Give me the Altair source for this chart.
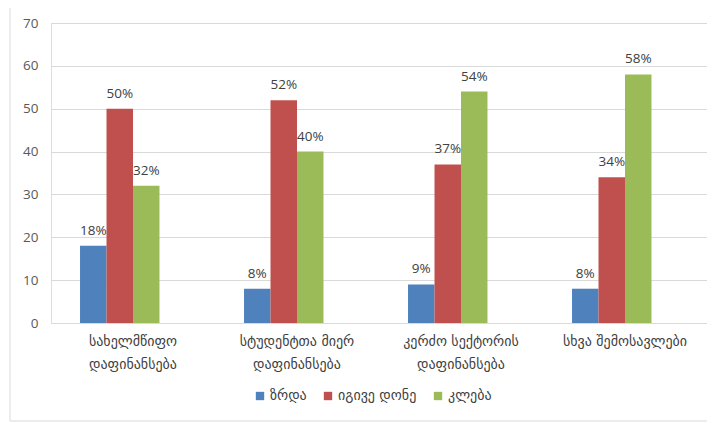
import altair as alt
import pandas as pd

categories = ["სახელმწიფო\nდაფინანსება", "სტუდენტთა მიერ\nდაფინანსება",
              "კერძო სექტორის\nდაფინანსება", "სხვა შემოსავლები"]
series = ["ზრდა", "იგივე დონე", "კლება"]
colors = ["#4F81BD", "#C0504D", "#9BBB59"]
values = {
    "ზრდა": [18, 8, 9, 8],
    "იგივე დონე": [50, 52, 37, 34],
    "კლება": [32, 40, 54, 58],
}
y_ticks = [0, 10, 20, 30, 40, 50, 60, 70]

rows = []
for s in series:
    for c, v in zip(categories, values[s]):
        rows.append({"cat": c, "series": s, "value": v, "label": f"{v}%"})
df = pd.DataFrame(rows)

FONT = "Open Sans, DejaVu Sans"
GEO = "DejaVu Sans, Open Sans"

x = alt.X("cat:N", sort=categories,
          scale=alt.Scale(paddingInner=0.354, paddingOuter=0.177),
          axis=alt.Axis(title=None, labelAngle=0, ticks=False, domainColor="#d9d9d9",
                        labelFont=GEO, labelFontSize=14, labelColor="#404040",
                        labelPadding=11, labelLineHeight=23,
                        labelExpr="split(datum.label, '\\n')"))
xo = alt.XOffset("series:N", scale=alt.Scale(domain=series + ["_"], paddingInner=0, paddingOuter=0))
y = alt.Y("value:Q", scale=alt.Scale(domain=[0, 70]),
          axis=alt.Axis(title=None, values=y_ticks, domain=False, ticks=False,
                        gridColor="#d9d9d9", labelFont=FONT, labelFontSize=13.5,
                        labelColor="#595959", labelPadding=13))

color = alt.Color("series:N", sort=series,
                  scale=alt.Scale(domain=series, range=colors),
                  legend=alt.Legend(title=None, orient="none", direction="horizontal",
                                    legendX=202, legendY=366, symbolType="square",
                                    symbolSize=70, symbolStrokeWidth=0,
                                    labelFont=GEO, labelFontSize=14, labelColor="#404040",
                                    columnPadding=14, labelOffset=3))

bars = alt.Chart(df).mark_bar().encode(x=x, xOffset=xo, y=y, color=color)
text = alt.Chart(df).mark_text(baseline="bottom", dy=-8, font=FONT, fontSize=13.5,
                               color="#404040").encode(
    x=alt.X("cat:N", sort=categories), xOffset="series:N", y="value:Q", text="label:N")

frame_top = alt.Chart(pd.DataFrame({"a": [0]})).mark_rule(color="#d9d9d9", clip=False).encode(
    x=alt.value(-41), x2=alt.value(700), y=alt.value(-19))
frame_left = alt.Chart(pd.DataFrame({"a": [0]})).mark_rule(color="#d9d9d9", clip=False).encode(
    x=alt.value(-41), y=alt.value(-19), y2=alt.value(398))
frame_bottom = alt.Chart(pd.DataFrame({"a": [0]})).mark_rule(color="#d9d9d9", clip=False).encode(
    x=alt.value(-41), x2=alt.value(700), y=alt.value(398))

chart = alt.layer(bars, text, frame_top, frame_left, frame_bottom).properties(
    width=656, height=300,
    autosize=alt.AutoSizeParams(type="none"),
    padding={"left": 43, "top": 15, "right": 0, "bottom": 100},
).configure_view(stroke=None).configure(background="white")

chart.save("out.html", embed_options={"renderer": "svg", "actions": False})
